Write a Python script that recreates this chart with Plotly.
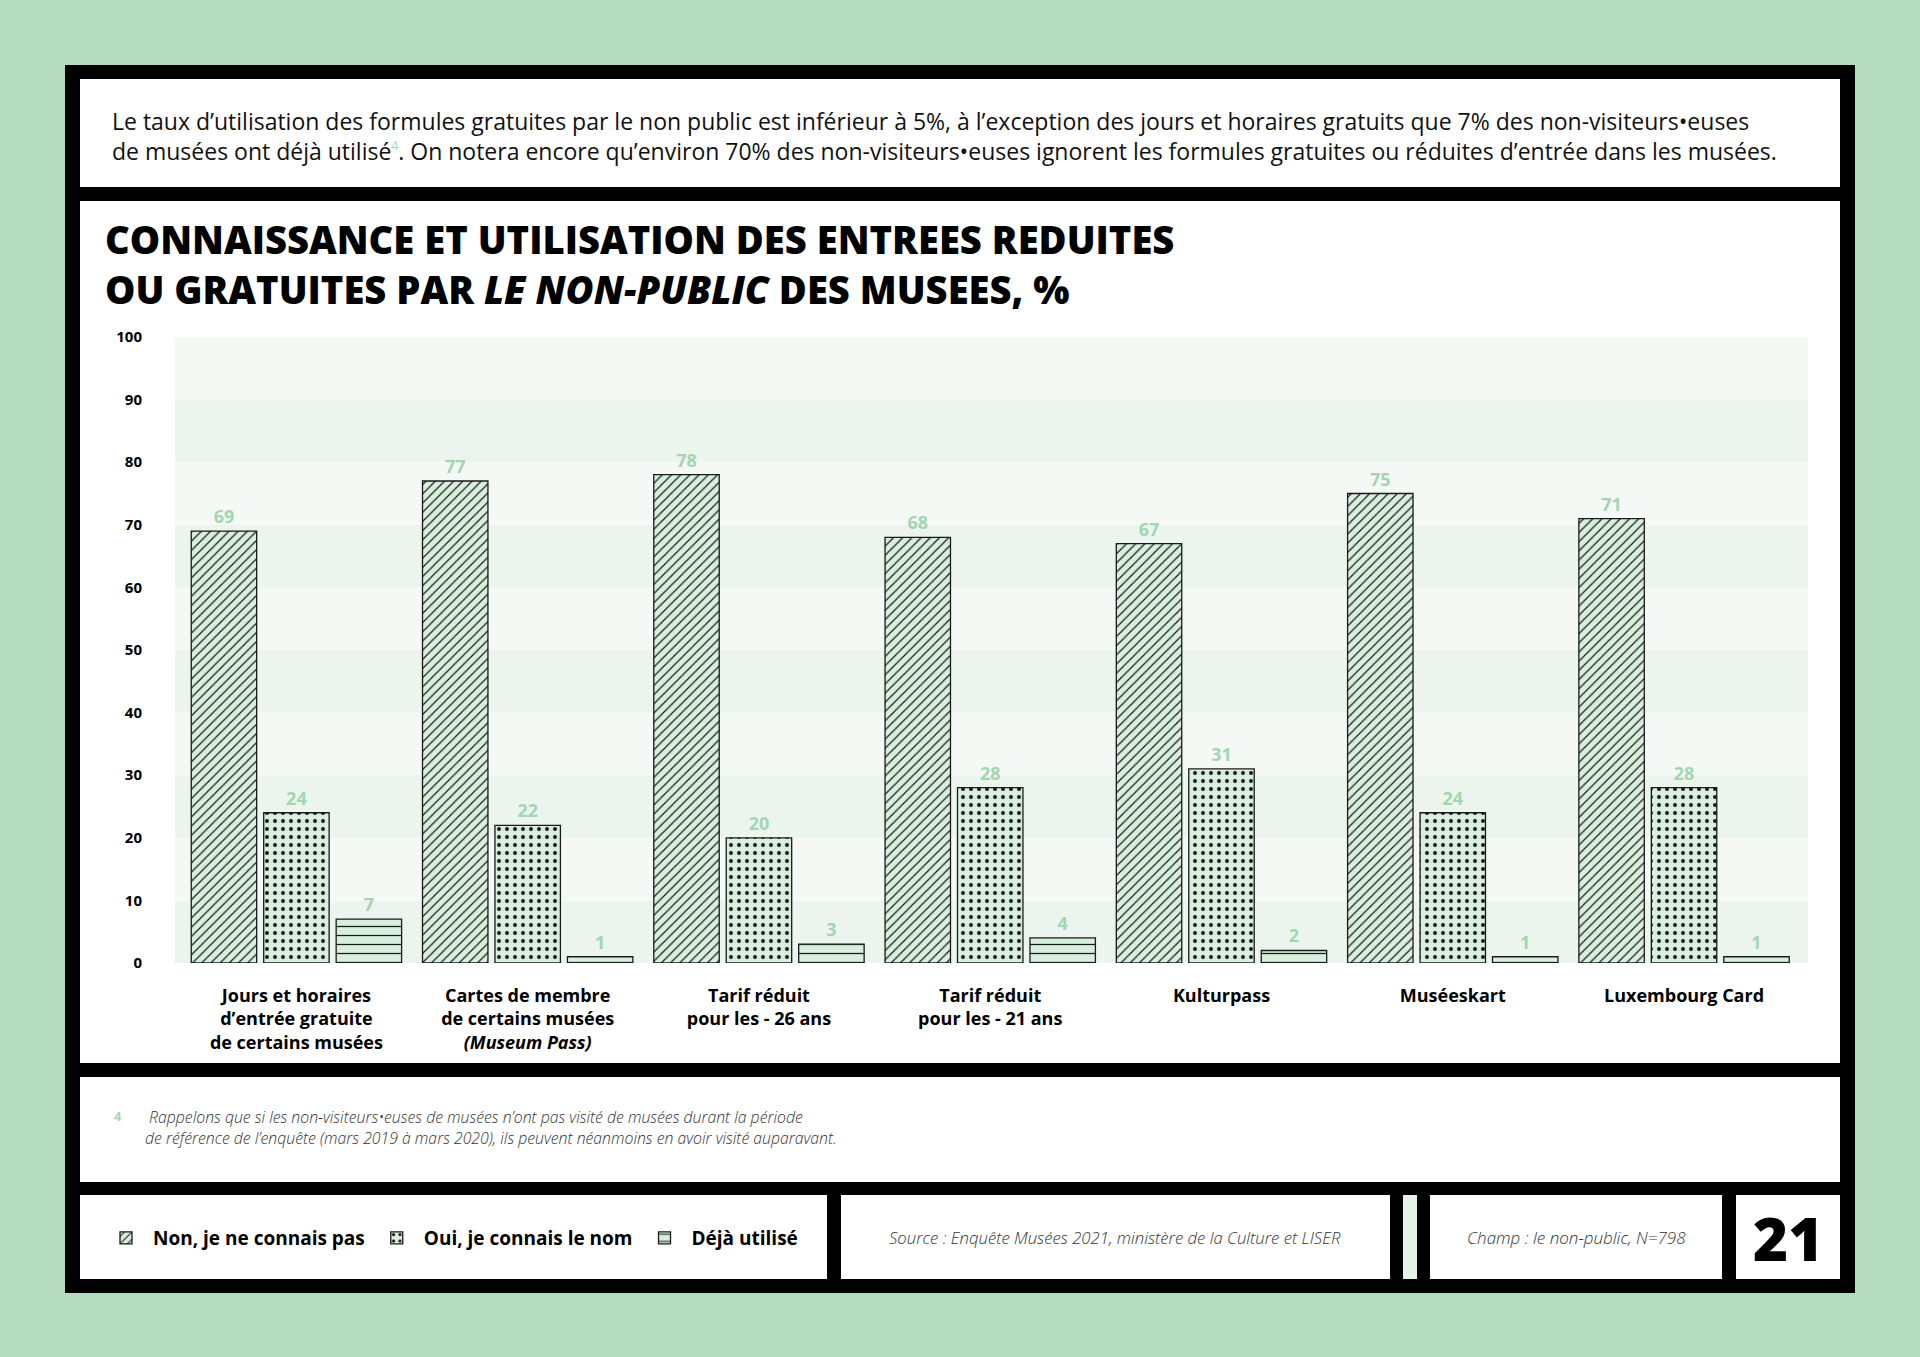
import plotly.graph_objects as go

# données (%)
categories = [
    "Jours et horaires<br>d’entrée gratuite<br>de certains musées",
    "Cartes de membre<br>de certains musées<br><i>(Museum Pass)</i>",
    "Tarif réduit<br>pour les - 26 ans",
    "Tarif réduit<br>pour les - 21 ans",
    "Kulturpass",
    "Muséeskart",
    "Luxembourg Card",
]
non_connais = [69, 77, 78, 68, 67, 75, 71]
oui_nom = [24, 22, 20, 28, 31, 24, 28]
deja_utilise = [7, 1, 3, 4, 2, 1, 1]
series_names = ["Non, je ne connais pas", "Oui, je connais le nom", "Déjà utilisé"]
y_ticks = list(range(0, 101, 10))

W, H = 1920, 1357
PL, PR, PT, PB = 175, 1808, 337, 963  # zone de tracé en pixels


def px(x):
    return (x - PL) / (PR - PL)


def py(y):
    return (PB - y) / (PB - PT)


GREEN_BG = "#b3dcbf"
BAR_FILL = "#d8efdd"
LABEL_GREEN = "#a3d5b1"
FONT = "Open Sans"

fig = go.Figure()
pattern_style = {
    "/": dict(size=6.5, solidity=0.2),
    ".": dict(size=8, solidity=0.2),
    "-": dict(size=9, solidity=0.14),
}
for name, vals, pat in zip(series_names, [non_connais, oui_nom, deja_utilise], ["/", ".", "-"]):
    fig.add_trace(go.Bar(
        x=categories, y=vals, name=name,
        marker=dict(
            color=BAR_FILL,
            line=dict(color="#1a1a1a", width=1.3),
            pattern=dict(shape=pat, fgcolor="#1a1a1a", bgcolor=BAR_FILL,
                         fillmode="replace", **pattern_style[pat]),
        ),
        text=vals, textposition="outside", cliponaxis=False,
        textfont=dict(family=FONT, size=18, color=LABEL_GREEN, weight="bold"),
    ))

shapes = []


def box(x0, y0, x1, y1, color):
    shapes.append(dict(type="rect", xref="paper", yref="paper", layer="below",
                       x0=px(x0), x1=px(x1), y0=py(y1), y1=py(y0),
                       fillcolor=color, line=dict(width=0)))


box(65, 65, 1855, 1293, "#000000")
box(80, 79, 1840, 187, "white")
box(80, 201, 1840, 1063, "white")
box(80, 1077, 1840, 1182, "white")
box(80, 1195, 827, 1279, "white")
box(841, 1195, 1390, 1279, "white")
box(1403, 1195, 1417, 1279, "#e3f3e7")
box(1430, 1195, 1722, 1279, "white")
box(1736, 1195, 1840, 1279, "white")

# bandes horizontales alternées
for i, v in enumerate(y_ticks[:-1]):
    shapes.append(dict(type="rect", xref="paper", yref="y", layer="below",
                       x0=0, x1=1, y0=v, y1=v + 10,
                       fillcolor="#ebf5ed" if i % 2 == 0 else "#f4f9f5",
                       line=dict(width=0)))

intro = ("Le taux d’utilisation des formules gratuites par le non public est inférieur à 5%, à l’exception des jours et horaires gratuits que 7% des non-visiteurs•euses<br>"
         "de musées ont déjà utilisé<sup><span style='color:#a3d5b1;font-size:12px'>4</span></sup>. On notera encore qu’environ 70% "
         "des non-visiteurs•euses ignorent les formules gratuites ou réduites d’entrée dans les musées.")

annotations = [
    dict(text=intro, x=px(110), y=py(136), xanchor="left", yanchor="middle", align="left",
         font=dict(family=FONT, size=23, color="#111")),
    dict(text="CONNAISSANCE ET UTILISATION DES ENTREES REDUITES<br>OU GRATUITES PAR <i>LE NON-PUBLIC</i> DES MUSEES, %",
         x=px(103), y=py(264), xanchor="left", yanchor="middle", align="left",
         font=dict(family=FONT, size=38.2, color="#000", weight=800)),
    dict(text="4", x=px(112), y=py(1116), xanchor="left", yanchor="middle",
         font=dict(family=FONT, size=13, color=LABEL_GREEN, weight="bold")),
    dict(text="<i> Rappelons que si les non-visiteurs•euses de musées n’ont pas visité de musées durant la période<br>"
              "de référence de l’enquête (mars 2019 à mars 2020), ils peuvent néanmoins en avoir visité auparavant.</i>",
         x=px(143), y=py(1127), xanchor="left", yanchor="middle", align="left",
         font=dict(family=FONT, size=15.8, color="#333", weight=300)),
    dict(text="<i>Source : Enquête Musées 2021, ministère de la Culture et LISER</i>",
         x=px(1115), y=py(1237), xanchor="center", yanchor="middle",
         font=dict(family=FONT, size=16.7, color="#333", weight=300)),
    dict(text="<i>Champ : le non-public, N=798</i>",
         x=px(1576), y=py(1237), xanchor="center", yanchor="middle",
         font=dict(family=FONT, size=17, color="#333", weight=300)),
    dict(text="21", x=px(1788), y=py(1238), xanchor="center", yanchor="middle",
         font=dict(family=FONT, size=60, color="#000", weight=800)),
]
for a in annotations:
    a.update(xref="paper", yref="paper", showarrow=False)

fig.update_layout(
    width=W, height=H,
    margin=dict(l=PL, r=W - PR, t=PT, b=H - PB, pad=0),
    paper_bgcolor=GREEN_BG, plot_bgcolor="rgba(0,0,0,0)",
    font=dict(family=FONT, color="#000"),
    barmode="group", bargap=0.06, bargroupgap=0.097,
    shapes=shapes, annotations=annotations,
    showlegend=True,
    legend=dict(orientation="h", x=px(99), y=py(1238), xanchor="left", yanchor="middle",
                bgcolor="rgba(0,0,0,0)",
                font=dict(family=FONT, size=19, color="#000", weight="bold"),
                itemwidth=44, tracegroupgap=0),
)
fig.update_xaxes(range=[-0.525, 6.536], showgrid=False, zeroline=False, showline=False,
                 ticks="", ticklabelstandoff=20,
                 tickfont=dict(family=FONT, size=18, color="#000", weight="bold"))
fig.update_yaxes(range=[0, 100], tickvals=y_ticks, showgrid=False, zeroline=False,
                 showline=False, ticks="", ticklabelstandoff=32,
                 tickfont=dict(family=FONT, size=15, color="#000", weight="bold"))

fig.write_html("out.html", config={"displayModeBar": False},
               post_script="document.body.style.margin='0';")
